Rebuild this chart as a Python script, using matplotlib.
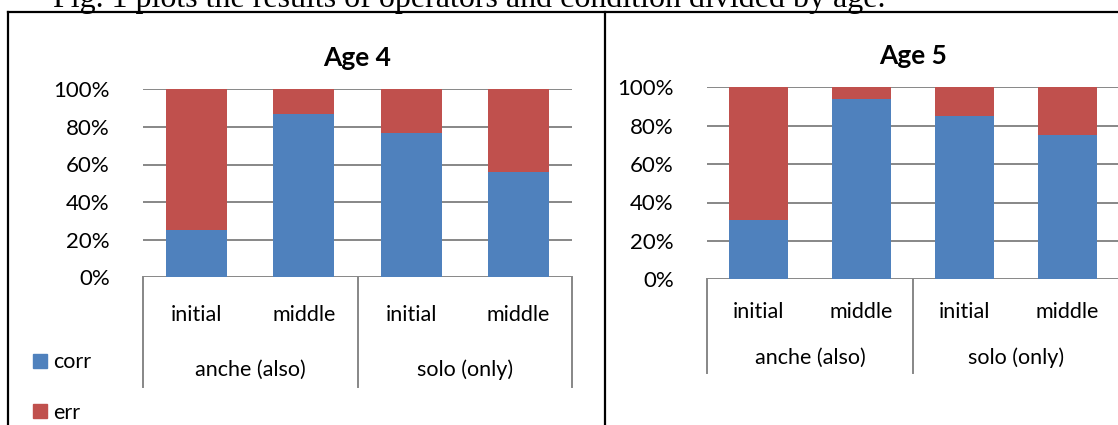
import matplotlib
matplotlib.use('Agg')
import matplotlib.pyplot as plt
from matplotlib.lines import Line2D
from matplotlib.patches import Patch

plt.rcParams['font.family'] = ['Lato', 'DejaVu Sans']

# data
positions = ['initial', 'middle', 'initial', 'middle']
operators = ['anche (also)', 'solo (only)']
age4_corr = [25, 87, 77, 56]
age4_err = [75, 13, 23, 44]
age5_corr = [31, 94, 85, 75]
age5_err = [69, 6, 15, 25]
yticks = [0, 20, 40, 60, 80, 100]

blue = '#4F81BD'
red = '#C0504D'
grid_col = '#878787'

W, H = 1118, 425
fig = plt.figure(figsize=(W / 100, H / 100), dpi=100)


def px_axes(x0, x1, ytop, ybot):
    return fig.add_axes([x0 / W, (H - ybot) / H, (x1 - x0) / W, (ybot - ytop) / H])


def draw_chart(ax, title, corr, err, row1, row2, lines_end):
    x = range(len(positions))
    ax.bar(x, corr, width=0.57, color=blue, linewidth=0, label='corr', zorder=2)
    ax.bar(x, err, width=0.57, bottom=corr, color=red, linewidth=0, label='err', zorder=2)
    ax.set_xlim(-0.5, len(positions) - 0.5)
    ax.set_ylim(0, 100)
    ax.set_yticks(yticks)
    ax.set_yticklabels([f'{v}%' for v in yticks], fontsize=16)
    ax.tick_params(axis='y', length=0, pad=24)
    ax.set_xticks([])
    for s in ax.spines.values():
        s.set_visible(False)
    ax.set_axisbelow(True)
    ax.grid(axis='y', color=grid_col, linewidth=1.4)
    ax.set_title(title, fontsize=19, fontweight='bold', pad=17)

    tr = ax.get_xaxis_transform()
    for i, lab in enumerate(positions):
        ax.text(i, row1, lab, transform=tr, ha='center', va='center', fontsize=15.5)
    for g, lab in enumerate(operators):
        ax.text(2 * g + 0.5, row2, lab, transform=tr, ha='center', va='center', fontsize=15.5)
    for xv in [-0.5, 1.5, 3.5]:
        ax.plot([xv, xv], [0, lines_end], transform=tr, color=grid_col,
                linewidth=1.4, clip_on=False)


ax1 = px_axes(143, 572, 89.3, 277.3)
draw_chart(ax1, 'Age 4', age4_corr, age4_err, -0.2, -0.49, -0.585)

ax2 = px_axes(707, 1119, 87.3, 279.3)
draw_chart(ax2, 'Age 5', age5_corr, age5_err, -0.169, -0.41, -0.486)

# legend of the left chart
handles = [Patch(color=blue), Patch(color=red)]
fig.legend(handles, ['corr', 'err'], loc='center left',
           bbox_to_anchor=(33 / W, (H - 387.5) / H), frameon=False,
           handlelength=0.65, handleheight=0.65, handletextpad=0.3,
           labelspacing=1.4, borderpad=0, borderaxespad=0, fontsize=15.5)

# frames around the two charts
def fig_line(xs, ys):
    fig.add_artist(Line2D([v / W for v in xs], [(H - v) / H for v in ys],
                          transform=fig.transFigure, color='black', linewidth=1.6))

fig_line([8, W], [12, 12])
fig_line([8, 8], [12, H])
fig_line([605, 605], [12, H])

# caption of the document, cut at the top
fig.text(53 / W, (H - 7) / H, 'Fig. 1 plots the results of operators and condition divided by age.',
         family='Liberation Serif', fontsize=23, va='baseline', ha='left')

fig.savefig('out.png', dpi=100)
